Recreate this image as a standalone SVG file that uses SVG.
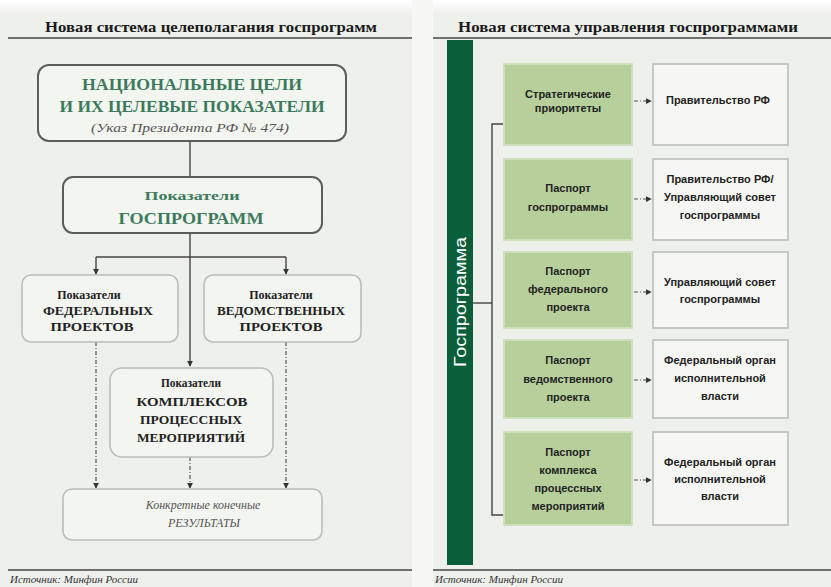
<svg xmlns="http://www.w3.org/2000/svg" width="831" height="587" viewBox="0 0 831 587">
<defs>
<linearGradient id="topfade" x1="0" y1="0" x2="0" y2="1">
<stop offset="0" stop-color="#ffffff"/><stop offset="1" stop-color="#eef0ec"/>
</linearGradient>
<marker id="ah" viewBox="0 0 8 8" refX="7" refY="4" markerWidth="6" markerHeight="6" orient="auto" markerUnits="userSpaceOnUse">
<path d="M0,0 L8,4 L0,8 z" fill="#333"/>
</marker>
<style>
.ttl{font-family:"Liberation Serif",serif;font-weight:bold;font-size:14px;fill:#1a1a1a}
.src{font-family:"Liberation Serif",serif;font-style:italic;font-size:11px;fill:#333}
.bigbox{fill:#f3f5f1;stroke:#5a5e5a;stroke-width:2}
.smbox{fill:#f3f5f1;stroke:#b9bcb7;stroke-width:1.6}
.gn{font-family:"Liberation Serif",serif;font-weight:bold;fill:#3c7a5c;text-anchor:middle}
.dk{font-family:"Liberation Serif",serif;font-weight:bold;fill:#222;text-anchor:middle;font-size:12px}
.it{font-family:"Liberation Serif",serif;font-style:italic;fill:#555;text-anchor:middle}
.gbox{fill:#b7d09b;stroke:#cfe0bd;stroke-width:2}
.wbox{fill:#f6f7f4;stroke:#c6c8c3;stroke-width:2}
.rt{font-family:"Liberation Sans",sans-serif;font-weight:bold;font-size:11px;fill:#222;text-anchor:middle}
.sol{stroke:#444;stroke-width:1.4;fill:none}
.dd{stroke:#555;stroke-width:1.2;fill:none;stroke-dasharray:4 2 1 2}
.rule{stroke:#707070;stroke-width:2}
</style>
</defs>
<rect width="831" height="587" fill="#eef0ec"/>
<rect width="831" height="16" fill="url(#topfade)"/>
<rect x="412" y="0" width="21" height="587" fill="#f7f8f6"/>

<g id="left-header">
<text class="ttl" x="211" y="32" text-anchor="middle" textLength="332" lengthAdjust="spacingAndGlyphs">Новая система целеполагания госпрограмм</text>
<line class="rule" x1="8" y1="38" x2="412" y2="38"/>
<line class="rule" x1="8" y1="570" x2="412" y2="570"/>
<text class="src" x="10" y="583">Источник: Минфин России</text>
</g>

<g id="right-header">
<text class="ttl" x="628" y="32" text-anchor="middle" textLength="340" lengthAdjust="spacingAndGlyphs">Новая система управления госпрограммами</text>
<line class="rule" x1="433" y1="38" x2="831" y2="38"/>
<line class="rule" x1="433" y1="570" x2="831" y2="570"/>
<text class="src" x="435" y="583">Источник: Минфин России</text>
</g>

<g id="connectors">
<line class="sol" x1="190" y1="142" x2="190" y2="177"/>
<line class="sol" x1="190" y1="233" x2="190" y2="366" marker-end="url(#ah)"/>
<line class="sol" x1="96" y1="257" x2="286" y2="257"/>
<line class="sol" x1="96" y1="257" x2="96" y2="274" marker-end="url(#ah)"/>
<line class="sol" x1="286" y1="257" x2="286" y2="274" marker-end="url(#ah)"/>
<line class="dd" x1="96" y1="342" x2="96" y2="488" marker-end="url(#ah)"/>
<line class="dd" x1="286" y1="342" x2="286" y2="488" marker-end="url(#ah)"/>
<line class="dd" x1="190" y1="457" x2="190" y2="488" marker-end="url(#ah)"/>
<polyline class="sol" points="505,124 492,124 492,515 505,515" stroke="#777"/>
<line class="sol" x1="473" y1="303" x2="492" y2="303" stroke="#777"/>
<line class="dd" x1="634" y1="101" x2="651" y2="101" marker-end="url(#ah)"/>
<line class="dd" x1="634" y1="199" x2="651" y2="199" marker-end="url(#ah)"/>
<line class="dd" x1="634" y1="292" x2="651" y2="292" marker-end="url(#ah)"/>
<line class="dd" x1="634" y1="380" x2="651" y2="380" marker-end="url(#ah)"/>
<line class="dd" x1="634" y1="480" x2="651" y2="480" marker-end="url(#ah)"/>
</g>

<g id="n-goals">
<rect class="bigbox" x="38" y="65" width="308" height="76" rx="11"/>
<text class="gn" x="192" y="90" font-size="16" textLength="220" lengthAdjust="spacingAndGlyphs">НАЦИОНАЛЬНЫЕ ЦЕЛИ</text>
<text class="gn" x="192" y="112" font-size="16" textLength="265" lengthAdjust="spacingAndGlyphs">И ИХ ЦЕЛЕВЫЕ ПОКАЗАТЕЛИ</text>
<text class="it" x="190" y="132" font-size="13" fill="#4a7a64" textLength="198" lengthAdjust="spacingAndGlyphs">(Указ Президента РФ № 474)</text>
</g>

<g id="n-gp">
<rect class="bigbox" x="63" y="177" width="259" height="56" rx="10"/>
<text class="gn" x="192" y="200" font-size="13" textLength="95" lengthAdjust="spacingAndGlyphs">Показатели</text>
<text class="gn" x="191" y="224" font-size="17" textLength="145" lengthAdjust="spacingAndGlyphs">ГОСПРОГРАММ</text>
</g>

<g id="n-fed">
<rect class="smbox" x="22" y="275" width="156" height="67" rx="9"/>
<text class="dk" x="89" y="299" font-size="10">Показатели</text>
<text class="dk" x="98" y="315" textLength="110" lengthAdjust="spacingAndGlyphs">ФЕДЕРАЛЬНЫХ</text>
<text class="dk" x="92" y="331" textLength="83" lengthAdjust="spacingAndGlyphs">ПРОЕКТОВ</text>
</g>

<g id="n-ved">
<rect class="smbox" x="204" y="275" width="157" height="67" rx="9"/>
<text class="dk" x="281" y="299" font-size="10">Показатели</text>
<text class="dk" x="281" y="315" textLength="128" lengthAdjust="spacingAndGlyphs">ВЕДОМСТВЕННЫХ</text>
<text class="dk" x="281" y="331" textLength="83" lengthAdjust="spacingAndGlyphs">ПРОЕКТОВ</text>
</g>

<g id="n-kpm">
<rect class="smbox" x="110" y="368" width="163" height="89" rx="12"/>
<text class="dk" x="191" y="387" font-size="10" textLength="60" lengthAdjust="spacingAndGlyphs">Показатели</text>
<text class="dk" x="192" y="406" textLength="111" lengthAdjust="spacingAndGlyphs">КОМПЛЕКСОВ</text>
<text class="dk" x="191" y="424" textLength="102" lengthAdjust="spacingAndGlyphs">ПРОЦЕССНЫХ</text>
<text class="dk" x="191" y="442" textLength="108" lengthAdjust="spacingAndGlyphs">МЕРОПРИЯТИЙ</text>
</g>

<g id="n-res">
<rect class="smbox" x="63" y="489" width="259" height="51" rx="9"/>
<text class="it" x="203" y="509" font-size="12">Конкретные конечные</text>
<text class="it" x="204" y="527" font-size="12">РЕЗУЛЬТАТЫ</text>
</g>

<g id="n-bar">
<rect x="447" y="40" width="26" height="525" fill="#0b5e3a"/>
<text x="466" y="302" transform="rotate(-90 466 302)" text-anchor="middle" font-family="Liberation Sans, sans-serif" font-size="16" fill="#ffffff" textLength="130" lengthAdjust="spacingAndGlyphs">Госпрограмма</text>
</g>

<g id="r1">
<rect class="gbox" x="504" y="64" width="128" height="81"/>
<text class="rt" x="568" y="98">Стратегические</text>
<text class="rt" x="568" y="112">приоритеты</text>
<rect class="wbox" x="653" y="64" width="135" height="81"/>
<text class="rt" x="718" y="104">Правительство РФ</text>
</g>

<g id="r2">
<rect class="gbox" x="504" y="159" width="128" height="81"/>
<text class="rt" x="568" y="192">Паспорт</text>
<text class="rt" x="568" y="211">госпрограммы</text>
<rect class="wbox" x="653" y="159" width="135" height="81"/>
<text class="rt" x="720" y="183">Правительство РФ/</text>
<text class="rt" x="720" y="201">Управляющий совет</text>
<text class="rt" x="720" y="219">госпрограммы</text>
</g>

<g id="r3">
<rect class="gbox" x="504" y="252" width="128" height="76"/>
<text class="rt" x="568" y="275">Паспорт</text>
<text class="rt" x="568" y="293">федерального</text>
<text class="rt" x="568" y="311">проекта</text>
<rect class="wbox" x="653" y="252" width="135" height="76"/>
<text class="rt" x="720" y="286">Управляющий совет</text>
<text class="rt" x="720" y="303">госпрограммы</text>
</g>

<g id="r4">
<rect class="gbox" x="504" y="340" width="128" height="78"/>
<text class="rt" x="568" y="364">Паспорт</text>
<text class="rt" x="568" y="383">ведомственного</text>
<text class="rt" x="568" y="401">проекта</text>
<rect class="wbox" x="653" y="340" width="135" height="78"/>
<text class="rt" x="720" y="364">Федеральный орган</text>
<text class="rt" x="720" y="382">исполнительной</text>
<text class="rt" x="720" y="400">власти</text>
</g>

<g id="r5">
<rect class="gbox" x="504" y="432" width="128" height="93"/>
<text class="rt" x="568" y="456">Паспорт</text>
<text class="rt" x="568" y="474">комплекса</text>
<text class="rt" x="568" y="492">процессных</text>
<text class="rt" x="568" y="510">мероприятий</text>
<rect class="wbox" x="653" y="432" width="135" height="93"/>
<text class="rt" x="720" y="466">Федеральный орган</text>
<text class="rt" x="720" y="483">исполнительной</text>
<text class="rt" x="720" y="500">власти</text>
</g>
</svg>
